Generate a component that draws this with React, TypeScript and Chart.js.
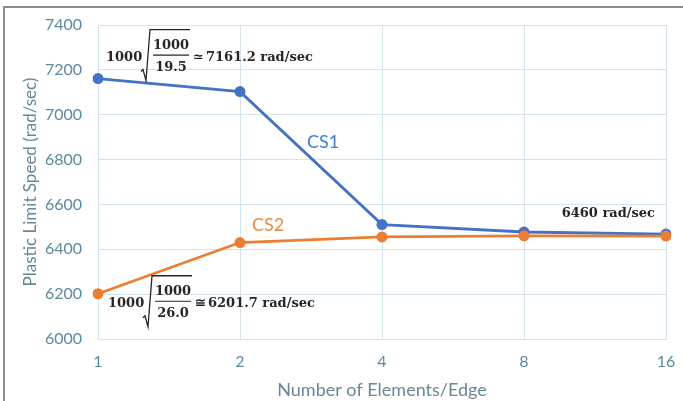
import React, { useEffect, useRef } from "react";
import { Chart, registerables } from "chart.js";

Chart.register(...registerables);

const categories = ["1", "2", "4", "8", "16"];
const cs1Values = [7161.2, 7103, 6510, 6477, 6468];
const cs2Values = [6201.7, 6430, 6455, 6460, 6459];
const yMin = 6000;
const yMax = 7400;
const yStep = 200;

const xTitle = "Number of Elements/Edge";
const yTitle = "Plastic Limit Speed (rad/sec)";
const cs1Name = "CS1";
const cs2Name = "CS2";
const topFormula = { coef: "1000", num: "1000", den: "19.5", rel: "\u2243", rest: "7161.2 rad/sec" };
const bottomFormula = { coef: "1000", num: "1000", den: "26.0", rel: "\u2245", rest: "6201.7 rad/sec" };
const convergedLabel = "6460 rad/sec";

const BLUE = "#4472c4";
const ORANGE = "#ed7d31";
const GRID = "#d3e2ec";
const TICK = "#5b8aa0";
const NOTE = "#262626";
const NOTE_FONT = "bold 13px 'DejaVu Serif'";

function drawFormula(ctx: CanvasRenderingContext2D, x0: number, mid: number, f: any) {
  ctx.save();
  ctx.fillStyle = NOTE;
  ctx.strokeStyle = NOTE;
  ctx.font = NOTE_FONT;
  ctx.textBaseline = "middle";
  ctx.textAlign = "left";
  ctx.fillText(f.coef, x0 - 2, mid);
  const rx = x0 + 33;
  const bot = mid + 23;
  const top = mid - 28;
  ctx.lineWidth = 1.3;
  ctx.beginPath();
  ctx.moveTo(rx, bot - 9);
  ctx.lineTo(rx + 2, bot - 11);
  ctx.lineTo(rx + 5, bot);
  ctx.lineTo(rx + 9, top);
  ctx.lineTo(x0 + 82, top);
  ctx.stroke();
  ctx.textAlign = "center";
  const fx = x0 + 63;
  ctx.fillText(f.num, fx, mid - 12);
  ctx.fillText(f.den, fx, mid + 10);
  ctx.lineWidth = 1.2;
  ctx.beginPath();
  ctx.moveTo(x0 + 45, mid - 2.5);
  ctx.lineTo(x0 + 81, mid - 2.5);
  ctx.stroke();
  ctx.textAlign = "left";
  ctx.fillText(f.rel, x0 + 85, mid);
  ctx.fillText(f.rest, x0 + 98, mid);
  ctx.restore();
}

const annotationPlugin = {
  id: "annotations",
  afterDatasetsDraw(chart: any) {
    const ctx = chart.ctx as CanvasRenderingContext2D;
    const m1 = chart.getDatasetMeta(0).data;
    const m2 = chart.getDatasetMeta(1).data;
    drawFormula(ctx, m1[0].x + 10, m1[0].y - 21, topFormula);
    drawFormula(ctx, m2[0].x + 12, m2[0].y + 10, bottomFormula);
    ctx.save();
    ctx.font = NOTE_FONT;
    ctx.fillStyle = NOTE;
    ctx.textAlign = "right";
    ctx.textBaseline = "middle";
    const last = m1[m1.length - 1];
    ctx.fillText(convergedLabel, last.x - 11, last.y - 20);
    ctx.font = "18px Lato";
    ctx.textAlign = "center";
    ctx.fillStyle = "#3f7fcf";
    ctx.fillText(cs1Name, (m1[1].x + m1[2].x) / 2 + 12, (m1[1].y + m1[2].y) / 2 - 16);
    ctx.fillStyle = "#f0883a";
    ctx.fillText(cs2Name, m2[1].x + 28, m2[1].y - 17);
    ctx.restore();
  },
};

export default function App() {
  const ref = useRef<HTMLCanvasElement>(null);
  useEffect(() => {
    const chart = new Chart(ref.current as HTMLCanvasElement, {
      type: "line",
      data: {
        labels: categories,
        datasets: [
          {
            label: cs1Name,
            data: cs1Values,
            borderColor: BLUE,
            backgroundColor: BLUE,
            borderWidth: 2.8,
            pointRadius: 5.5,
            pointBorderWidth: 0,
            tension: 0,
            order: 2,
          },
          {
            label: cs2Name,
            data: cs2Values,
            borderColor: ORANGE,
            backgroundColor: ORANGE,
            borderWidth: 2.8,
            pointRadius: 5.5,
            pointBorderWidth: 0,
            tension: 0,
            order: 1,
          },
        ],
      },
      options: {
        animation: false,
        responsive: false,
        layout: { padding: { left: 19, right: 17, top: 25, bottom: 0 } },
        plugins: { legend: { display: false }, tooltip: { enabled: false } },
        scales: {
          x: {
            offset: false,
            grid: { color: GRID, drawTicks: false, lineWidth: 1 },
            border: { color: GRID },
            ticks: { color: TICK, font: { family: "Lato", size: 16 }, padding: 13 },
            title: {
              display: true,
              text: xTitle,
              color: "#6a8796",
              font: { family: "Lato", size: 18 },
              padding: { top: 0, bottom: 0 },
            },
            afterFit: (s: any) => {
              s.height = 62;
              s.paddingLeft = 0;
              s.paddingRight = 0;
            },
          },
          y: {
            min: yMin,
            max: yMax,
            grid: { color: GRID, drawTicks: false, lineWidth: 1 },
            border: { color: GRID },
            ticks: {
              stepSize: yStep,
              color: TICK,
              font: { family: "Lato", size: 16 },
              padding: 16,
              callback: (v: any) => String(v),
            },
            title: {
              display: true,
              text: yTitle,
              color: "#6a8796",
              font: { family: "Lato", size: 17 },
              padding: { top: 1, bottom: 0 },
            },
            afterFit: (s: any) => {
              s.width = 79;
              s.paddingTop = 0;
              s.paddingBottom = 0;
            },
          },
        },
      },
      plugins: [annotationPlugin],
    });
    return () => chart.destroy();
  }, []);

  return (
    <div style={{ position: "fixed", left: 0, top: 0, width: 683, height: 401, background: "#fff" }}>
      <div
        style={{
          position: "absolute",
          left: 3,
          top: 6,
          right: 0,
          bottom: 0,
          borderTop: "2px solid #8c8c8c",
          borderLeft: "2px solid #8c8c8c",
        }}
      />
      <canvas ref={ref} width={683} height={401} style={{ position: "absolute", left: 0, top: 0 }} />
    </div>
  );
}
